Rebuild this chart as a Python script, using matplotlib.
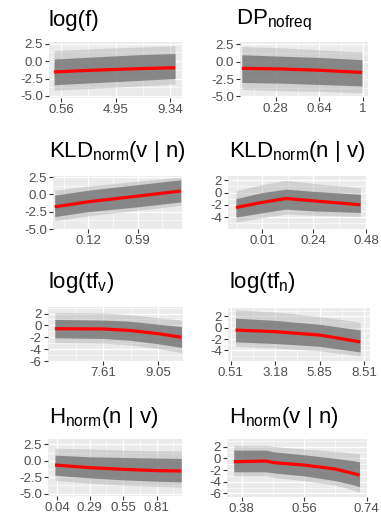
import numpy as np
import matplotlib
matplotlib.use("Agg")
import matplotlib.pyplot as plt

plt.rcParams['font.family'] = ['Liberation Sans', 'DejaVu Sans']
plt.rcParams['mathtext.fontset'] = 'custom'
plt.rcParams['mathtext.rm'] = 'Liberation Sans'
plt.rcParams['mathtext.it'] = 'Liberation Sans:italic'

# ---- data (x, mean effect, inner band, outer band) ----
x_logf = [0.0, 3.2, 6.5, 9.74]
mean_logf = [-1.55, -1.3, -1.1, -0.95]
in_lo_logf = [-3.4, -3.1, -2.8, -2.5]
in_hi_logf = [0.3, 0.6, 0.9, 1.1]
out_lo_logf = [-4.2, -3.9, -3.6, -3.3]
out_hi_logf = [1.5, 1.8, 2.0, 2.2]

x_dp = [0.0, 0.33, 0.66, 0.99]
mean_dp = [-0.96, -1.05, -1.25, -1.55]
in_lo_dp = [-3.0, -3.1, -3.3, -3.5]
in_hi_dp = [1.0, 0.8, 0.6, 0.3]
out_lo_dp = [-4.0, -4.2, -4.3, -4.5]
out_hi_dp = [2.2, 2.0, 1.7, 1.4]

x_kvn = [-0.2, 0.12, 0.59, 1.0]
mean_kvn = [-1.8, -1.07, -0.25, 0.48]
in_lo_kvn = [-3.2, -2.5, -1.8, -1.1]
in_hi_kvn = [-0.1, 0.6, 1.4, 2.1]
out_lo_kvn = [-3.8, -3.1, -2.3, -1.6]
out_hi_kvn = [0.6, 1.2, 1.9, 2.5]

x_knv = [-0.11, 0.01, 0.117, 0.24, 0.455]
mean_knv = [-2.44, -1.6, -0.97, -1.35, -2.0]
in_lo_knv = [-4.0, -3.3, -2.7, -3.0, -3.25]
in_hi_knv = [-1.0, 0.0, 0.55, 0.2, -0.3]
out_lo_knv = [-4.8, -4.1, -3.5, -3.7, -3.9]
out_hi_knv = [0.3, 1.3, 2.0, 1.5, 0.8]

x_tfv = [6.34, 7.61, 8.3, 9.05, 9.66]
mean_tfv = [-0.56, -0.6, -0.85, -1.4, -2.0]
in_lo_tfv = [-2.1, -2.2, -2.5, -3.1, -3.7]
in_hi_tfv = [1.0, 0.9, 0.7, 0.2, -0.2]
out_lo_tfv = [-2.9, -3.0, -3.3, -3.9, -4.6]
out_hi_tfv = [2.2, 2.1, 1.8, 1.3, 0.9]

x_tfn = [0.8, 3.18, 5.85, 8.28]
mean_tfn = [-0.41, -0.7, -1.3, -2.5]
in_lo_tfn = [-2.5, -2.8, -3.3, -4.3]
in_hi_tfn = [1.7, 1.3, 0.6, -0.4]
out_lo_tfn = [-3.3, -3.6, -4.1, -5.0]
out_hi_tfn = [3.2, 2.8, 2.0, 1.0]

x_hnv = [0.022, 0.29, 0.55, 0.81, 1.0]
mean_hnv = [-0.65, -1.05, -1.3, -1.5, -1.55]
in_lo_hnv = [-2.2, -2.6, -2.9, -3.1, -3.2]
in_hi_hnv = [0.85, 0.6, 0.5, 0.4, 0.35]
out_lo_hnv = [-3.0, -3.4, -3.7, -3.9, -4.0]
out_hi_hnv = [1.9, 1.8, 1.6, 1.5, 1.5]

x_hvn = [0.3575, 0.45, 0.475, 0.56, 0.65, 0.7, 0.7195]
mean_hvn = [-0.58, -0.46, -0.75, -1.15, -1.83, -2.56, -2.85]
in_lo_hvn = [-2.3, -2.3, -2.5, -3.0, -3.8, -4.5, -4.85]
in_hi_hvn = [1.4, 1.4, 1.1, 0.6, 0.0, -0.4, -0.6]
out_lo_hvn = [-3.0, -3.0, -3.3, -3.8, -4.6, -5.4, -5.8]
out_hi_hvn = [2.2, 2.2, 2.0, 1.6, 1.2, 0.9, 0.8]

# tick labels
xlab_logf = ['0.56', '4.95', '9.34']
xlab_dp = ['0.28', '0.64', '1']
xlab_kvn = ['0.12', '0.59']
xlab_knv = ['0.01', '0.24', '0.48']
xlab_tfv = ['7.61', '9.05']
xlab_tfn = ['0.51', '3.18', '5.85', '8.51']
xlab_hnv = ['0.04', '0.29', '0.55', '0.81']
xlab_hvn = ['0.38', '0.56', '0.74']
ylab_a = ['2.5', '0.0', '-2.5', '-5.0']
ylab_b = ['2', '0', '-2', '-4']
ylab_c = ['2', '0', '-2', '-4', '-6']

W, H = 381, 521
fig = plt.figure(figsize=(W / 100, H / 100), dpi=100)


def minor_between(ticks, lo, hi):
    t = sorted(ticks)
    if len(t) < 2:
        return []
    step = t[1] - t[0]
    m = [(a + b) / 2 for a, b in zip(t[:-1], t[1:])]
    m = [t[0] - step / 2] + m + [t[-1] + step / 2]
    return [v for v in m if lo < v < hi]


def panel(box, title, tpos, x, mean, ilo, ihi, olo, ohi, xlab, xlim, ylab, ylim):
    l, t, r, b = box
    ax = fig.add_axes([l / W, 1 - b / H, (r - l) / W, (b - t) / H])
    ax.set_facecolor('#EBEBEB')
    for s in ax.spines.values():
        s.set_visible(False)
    ax.fill_between(x, olo, ohi, color='#A8A8A8', alpha=0.4, lw=0)
    ax.fill_between(x, ilo, ihi, color='#6E6E6E', alpha=0.75, lw=0)
    ax.plot(x, mean, color='#FF0000', lw=2.3, solid_capstyle='butt')
    ax.set_xlim(xlim)
    ax.set_ylim(ylim)
    xt = [float(v) for v in xlab]
    yt = [float(v) for v in ylab]
    ax.set_xticks(xt)
    ax.set_xticklabels(xlab)
    ax.set_yticks(yt)
    ax.set_yticklabels(ylab)
    ax.set_xticks(minor_between(xt, *xlim), minor=True)
    ax.set_yticks(minor_between(yt, *ylim), minor=True)
    ax.set_axisbelow(True)
    ax.grid(which='major', color='white', lw=0.9)
    ax.grid(which='minor', color='white', lw=0.45)
    ax.tick_params(which='major', length=3, width=0.8, color='#333333',
                   labelcolor='#4D4D4D', labelsize=9.5, pad=1.5)
    ax.tick_params(which='minor', length=0)
    fig.text(tpos[0] / W, 1 - tpos[1] / H, title, fontsize=16,
             va='baseline', ha='left', color='black')
    return ax


panel((49, 42, 182, 98), 'log(f)', (48, 26),
      x_logf, mean_logf, in_lo_logf, in_hi_logf, out_lo_logf, out_hi_logf,
      xlab_logf, (-0.41, 10.3), ylab_a, (-5.3, 2.75))
panel((240, 42, 368, 97), r'$\mathrm{DP_{nofreq}}$', (236, 24),
      x_dp, mean_dp, in_lo_dp, in_hi_dp, out_lo_dp, out_hi_dp,
      xlab_dp, (-0.015, 1.04), ylab_a, (-5.1, 2.85))
panel((53, 176, 182, 229), r'$\mathrm{KLD_{norm}(v\ |\ n)}$', (49, 157),
      x_kvn, mean_kvn, in_lo_kvn, in_hi_kvn, out_lo_kvn, out_hi_kvn,
      xlab_kvn, (-0.216, 1.012), ylab_a, (-5.0, 2.65))
panel((228, 176, 367, 229), r'$\mathrm{KLD_{norm}(n\ |\ v)}$', (229, 157),
      x_knv, mean_knv, in_lo_knv, in_hi_knv, out_lo_knv, out_hi_knv,
      xlab_knv, (-0.146, 0.485), ylab_b, (-5.95, 2.7))
panel((48, 307, 183, 361), r'$\mathrm{log(tf_{v})}$', (48, 288),
      x_tfv, mean_tfv, in_lo_tfv, in_hi_tfv, out_lo_tfv, out_hi_tfv,
      xlab_tfv, (6.16, 9.70), ylab_c, (-6.0, 3.1))
panel((228, 308, 370, 361), r'$\mathrm{log(tf_{n})}$', (229, 288),
      x_tfn, mean_tfn, in_lo_tfn, in_hi_tfn, out_lo_tfn, out_hi_tfn,
      xlab_tfn, (0.35, 8.87), ylab_b, (-5.9, 3.5))
panel((48, 439, 182, 496), r'$\mathrm{H_{norm}(n\ |\ v)}$', (49, 423),
      x_hnv, mean_hnv, in_lo_hnv, in_hi_hnv, out_lo_hnv, out_hi_hnv,
      xlab_hnv, (-0.032, 1.006), ylab_a, (-5.35, 3.3))
panel((227, 439, 367, 497), r'$\mathrm{H_{norm}(v\ |\ n)}$', (229, 423),
      x_hvn, mean_hvn, in_lo_hvn, in_hi_hvn, out_lo_hvn, out_hi_hvn,
      xlab_hvn, (0.338, 0.741), ylab_c, (-6.6, 3.3))

fig.savefig('out.png', dpi=100)
